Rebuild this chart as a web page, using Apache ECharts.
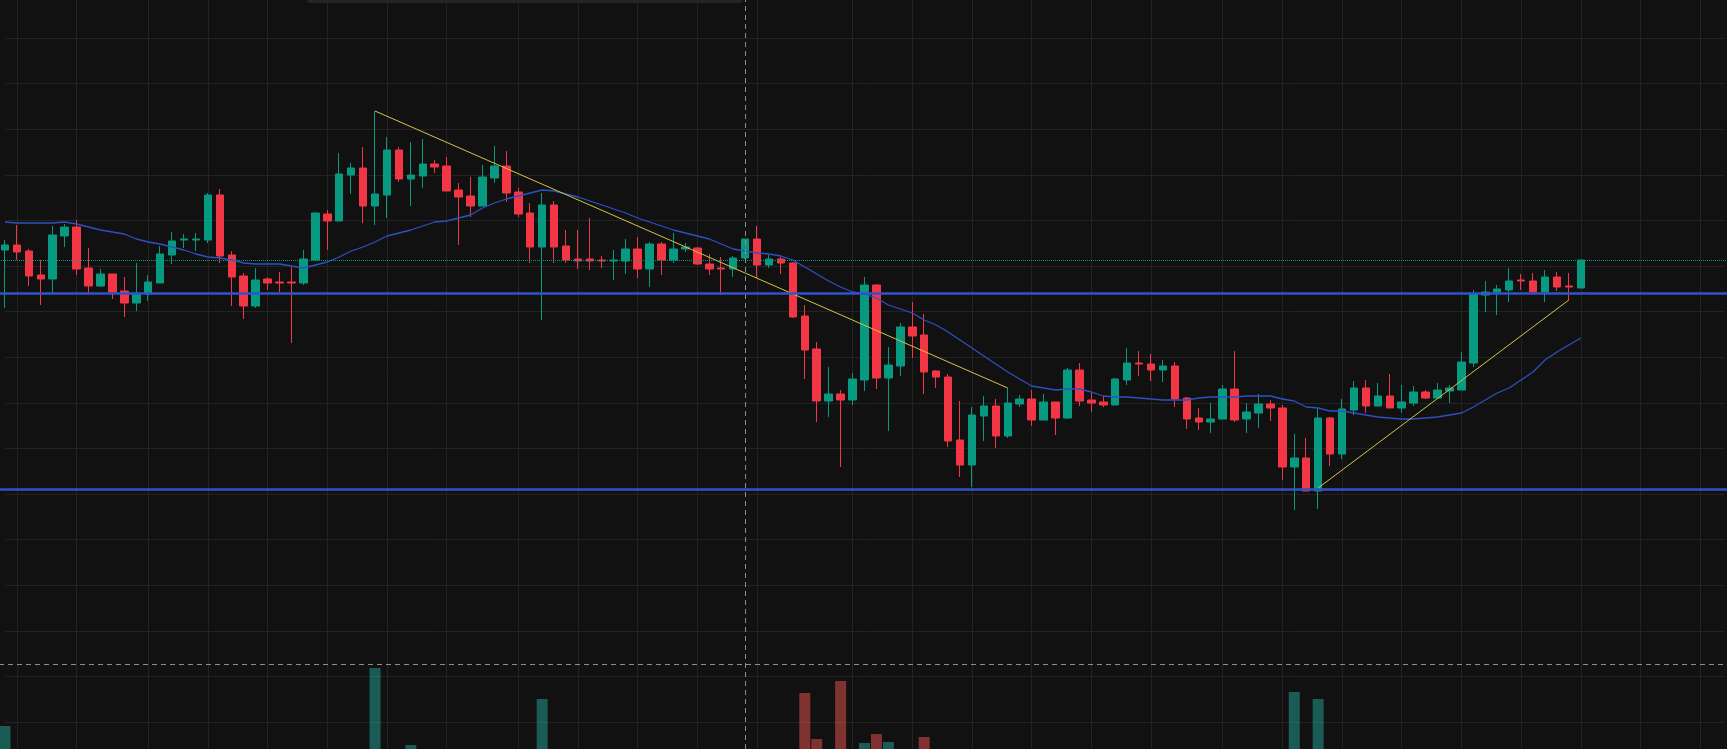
<!DOCTYPE html>
<html>
<head>
<meta charset="utf-8">
<title>candles</title>
<script src="https://cdn.jsdelivr.net/npm/echarts@6/dist/echarts.min.js"></script>
<style>
  html, body { margin: 0; padding: 0; background: #111111; overflow: hidden; }
  #chart { width: 1727px; height: 749px; }
</style>
</head>
<body>
<div id="chart"></div>
<script>
// [open, close, low, high]
var candles = [
  [75.0, 75.5, 69.2, 76.0], [75.5, 74.8, 74.0, 77.5], [74.9, 72.4, 71.4, 75.1], [72.5, 72.1, 69.5, 74.0],
  [72.1, 76.5, 70.7, 77.4], [76.4, 77.3, 75.3, 77.6], [77.3, 73.1, 72.5, 78.0], [73.2, 71.4, 70.7, 75.2],
  [71.4, 72.6, 71.3, 73.1], [72.6, 70.8, 70.1, 72.6], [70.9, 69.7, 68.3, 72.3], [69.7, 70.7, 68.9, 73.7],
  [70.6, 71.8, 69.9, 72.5], [71.7, 74.6, 71.7, 75.4], [74.5, 75.9, 73.6, 76.8], [76.0, 76.1, 75.2, 76.6],
  [76.0, 76.1, 74.9, 76.7], [76.0, 80.5, 75.7, 80.7], [80.5, 74.4, 73.7, 81.1], [74.5, 72.3, 69.4, 74.9],
  [72.4, 69.4, 68.1, 72.7], [69.4, 72.0, 69.2, 73.2], [72.1, 71.7, 71.0, 72.3], [71.8, 71.7, 70.8, 72.8],
  [71.8, 71.7, 65.7, 73.3], [71.7, 74.1, 71.5, 75.0], [74.0, 78.7, 74.0, 78.8], [78.6, 77.9, 75.0, 79.0],
  [77.9, 82.6, 77.9, 84.7], [82.5, 83.2, 80.6, 83.7], [83.2, 79.4, 77.7, 85.3], [79.4, 80.6, 77.5, 88.9],
  [80.5, 85.0, 78.2, 86.3], [85.0, 82.1, 81.8, 85.3], [82.1, 82.5, 79.4, 85.8], [82.4, 83.6, 81.2, 86.1],
  [83.6, 83.3, 82.7, 84.0], [83.4, 80.9, 80.9, 84.3], [81.0, 80.3, 75.5, 81.7], [80.4, 79.4, 78.3, 82.3],
  [79.4, 82.3, 79.4, 83.5], [82.2, 83.4, 81.7, 85.4], [83.4, 80.7, 79.8, 84.9], [80.8, 78.6, 78.3, 81.2],
  [78.7, 75.3, 73.7, 79.7], [75.3, 79.5, 68.0, 80.7], [79.5, 75.3, 73.7, 79.9], [75.4, 74.0, 73.7, 77.0],
  [74.1, 73.9, 73.1, 77.0], [74.1, 73.9, 73.0, 78.2], [74.0, 73.9, 73.2, 74.4], [73.9, 74.0, 72.0, 75.0],
  [73.9, 75.1, 72.6, 76.1], [75.1, 73.1, 72.2, 76.3], [73.1, 75.6, 71.3, 75.8], [75.6, 74.0, 72.5, 75.8],
  [74.0, 75.1, 73.7, 76.7], [75.1, 75.3, 74.8, 75.7], [75.2, 73.6, 73.5, 75.3], [73.6, 73.1, 72.5, 74.6],
  [73.2, 73.1, 70.5, 74.3], [73.1, 74.2, 72.3, 74.4], [74.2, 76.1, 74.1, 76.1], [76.1, 73.5, 72.2, 77.4],
  [73.5, 74.1, 73.2, 74.5], [74.1, 73.7, 72.6, 74.3], [73.7, 68.3, 68.2, 73.8], [68.4, 65.0, 62.1, 69.5],
  [65.1, 59.9, 57.8, 65.8], [59.9, 60.6, 58.3, 63.3], [60.6, 60.0, 53.3, 61.0], [60.0, 62.1, 59.5, 62.7],
  [62.0, 71.5, 60.9, 72.3], [71.5, 62.2, 61.1, 71.6], [62.2, 63.5, 56.9, 65.3], [63.4, 67.3, 62.4, 67.7],
  [67.3, 66.4, 64.2, 69.8], [66.5, 62.8, 60.6, 68.6], [62.9, 62.3, 61.2, 63.0], [62.3, 55.9, 55.3, 62.6],
  [56.0, 53.5, 52.3, 59.9], [53.5, 58.5, 51.3, 59.3], [58.4, 59.4, 55.9, 60.4], [59.4, 56.4, 55.2, 60.1],
  [56.4, 59.7, 56.2, 61.2], [59.6, 60.1, 59.3, 60.5], [60.1, 58.0, 57.4, 61.0], [58.0, 59.8, 58.0, 60.6],
  [59.8, 58.2, 56.5, 59.8], [58.2, 63.0, 58.1, 63.2], [63.0, 59.9, 59.4, 63.7], [60.0, 59.7, 58.8, 60.7],
  [59.8, 59.5, 59.3, 60.4], [59.5, 62.1, 59.5, 62.2], [62.0, 63.7, 61.5, 65.2], [63.7, 63.6, 62.4, 64.9],
  [63.6, 63.0, 61.9, 64.6], [63.0, 63.4, 61.8, 64.0], [63.4, 60.1, 59.3, 63.8], [60.2, 58.1, 57.1, 60.3],
  [58.2, 57.8, 57.0, 59.2], [57.8, 58.1, 56.7, 59.7], [58.1, 61.1, 58.1, 61.5], [61.1, 58.0, 57.8, 64.9],
  [58.1, 58.8, 56.7, 59.7], [58.7, 59.6, 57.2, 60.6], [59.6, 59.2, 57.9, 60.0], [59.2, 53.3, 52.0, 59.5],
  [53.3, 54.2, 49.0, 56.6], [54.2, 50.9, 50.9, 56.2], [50.9, 58.2, 49.1, 59.2], [58.2, 54.6, 53.4, 58.3],
  [54.6, 59.1, 54.1, 60.1], [59.0, 61.2, 58.5, 61.9], [61.2, 59.4, 58.7, 62.0], [59.4, 60.4, 59.4, 61.7],
  [60.4, 59.2, 59.2, 62.6], [59.2, 59.8, 58.7, 61.5], [59.7, 60.8, 59.4, 61.4], [60.8, 60.2, 60.1, 61.0],
  [60.2, 61.0, 60.2, 61.7], [60.9, 61.2, 59.7, 61.5], [61.0, 63.8, 61.0, 64.8], [63.7, 70.6, 63.3, 71.0],
  [70.5, 70.8, 68.8, 71.9], [70.8, 71.1, 68.5, 71.5], [71.0, 71.9, 69.8, 73.2], [72.0, 71.9, 71.0, 72.6],
  [71.9, 70.8, 70.7, 72.7], [70.8, 72.3, 69.8, 73.0], [72.3, 71.3, 70.9, 72.8], [71.4, 71.3, 70.0, 72.7],
  [71.2, 74.0, 71.2, 74.0]
];

var ma = [
  77.8, 77.7, 77.7, 77.7, 77.7, 77.8, 77.6, 77.3, 77.0, 76.8,
  76.6, 76.1, 75.8, 75.6, 75.3, 75.0, 74.6, 74.3, 74.2, 74.0,
  73.7, 73.6, 73.6, 73.6, 73.4, 73.2, 73.5, 73.8, 74.3, 74.9,
  75.3, 75.8, 76.4, 76.7, 77.0, 77.4, 77.8, 77.9, 78.2, 78.5,
  79.2, 79.7, 80.1, 80.4, 80.7, 81.0, 80.9, 80.6, 80.3, 79.9,
  79.5, 79.1, 78.7, 78.2, 77.8, 77.4, 77.0, 76.7, 76.4, 76.1,
  75.6, 75.1, 74.9, 74.7, 74.6, 74.4, 74.0, 73.3, 72.6, 71.9,
  71.3, 70.8, 70.6, 70.2, 69.5, 69.1, 68.7, 68.0, 67.5, 66.8,
  66.0, 65.2, 64.4, 63.6, 62.8, 62.1, 61.4, 61.2, 61.0, 61.1,
  61.1, 60.8, 60.4, 60.3, 60.3, 60.2, 60.1, 60.0, 60.0, 60.0,
  60.2, 60.3, 60.3, 60.3, 60.4, 60.4, 60.4, 60.1, 59.9, 59.3,
  59.2, 58.9, 58.9, 58.7, 58.5, 58.3, 58.2, 58.1, 58.1, 58.2,
  58.3, 58.5, 58.7, 59.3, 60.0, 60.7, 61.2, 62.0, 62.8, 64.0,
  64.8, 65.5, 66.2
];

var volumes = [
  83, 38, 42, 35, 48, 30, 45, 40, 28, 33,
  36, 41, 30, 44, 37, 22, 25, 52, 55, 43,
  47, 39, 24, 21, 35, 40, 50, 33, 54, 31,
  49, 141, 53, 42, 64, 38, 20, 36, 44, 34,
  41, 37, 45, 32, 51, 110, 48, 30, 26, 29,
  18, 27, 31, 34, 36, 29, 30, 19, 33, 24,
  31, 28, 39, 43, 22, 25, 56, 116, 70, 40,
  128, 45, 66, 75, 67, 52, 44, 72, 30, 55,
  50, 57, 36, 41, 46, 21, 34, 32, 35, 49,
  42, 23, 20, 38, 40, 22, 27, 24, 43, 37,
  26, 29, 39, 47, 31, 33, 25, 54, 117, 51,
  110, 48, 46, 36, 34, 28, 33, 27, 29, 18,
  24, 21, 44, 57, 35, 30, 38, 20, 28, 32,
  26, 23, 41
];

var levels = [70.65, 51.1];
var trendDown = [[31, 88.9], [84, 61.2]];
var trendUp = [[110, 51.2], [131, 70.0]];
var lastPrice = 74.0;
var crossIdx = 62;
var crossPrice = 33.55;
var gridIdx = [1, 6, 12, 17, 22, 27, 32, 37, 43, 48, 53, 58, 63, 71, 76, 81, 86, 91, 96, 102, 107, 112, 117, 122, 127, 132, 137, 142];
var emptySlots = 12;

var upColor = '#089981';
var downColor = '#f23645';

var dates = [];
var d = new Date(2023, 2, 1);
while (dates.length < candles.length + emptySlots) {
    if (d.getDay() !== 0 && d.getDay() !== 6) {
        dates.push(d.getFullYear() + '-' + (d.getMonth() + 1) + '-' + d.getDate());
    }
    d.setDate(d.getDate() + 1);
}

var volData = volumes.map(function (v, i) {
    var up = candles[i][1] >= candles[i][0];
    return { value: v, itemStyle: { color: up ? 'rgba(38,166,154,0.5)' : 'rgba(239,83,80,0.5)' } };
});

var myChart = echarts.init(document.getElementById('chart'));
myChart.setOption({
    backgroundColor: '#111111',
    animation: false,
    graphic: [{
        type: 'rect', z: 100,
        shape: { x: 307, y: -4, width: 436, height: 7, r: 3 },
        style: { fill: '#242424' }
    }],
    grid: [
        { left: -1, top: 0, width: 1731, height: 749, containLabel: false, outerBoundsMode: 'none' },
        { left: -1, top: 609, width: 1731, height: 200, containLabel: false, outerBoundsMode: 'none' },
        { left: 4.97, top: -7.6, width: 1719.07, height: 775.2, containLabel: false, outerBoundsMode: 'none' }
    ],
    xAxis: [
        { type: 'category', gridIndex: 0, data: dates, show: false },
        { type: 'category', gridIndex: 1, data: dates, show: false },
        {
            type: 'category', gridIndex: 2, data: dates, boundaryGap: false,
            axisLine: { show: false }, axisTick: { show: false }, axisLabel: { show: false },
            splitLine: {
                show: true,
                interval: function (index) { return gridIdx.indexOf(index) >= 0; },
                lineStyle: { color: '#232323', width: 1 }
            }
        }
    ],
    yAxis: [
        { type: 'value', gridIndex: 0, min: 25.1, max: 100, show: false },
        { type: 'value', gridIndex: 1, min: 0, max: 200, show: false },
        {
            type: 'value', gridIndex: 2, min: 0, max: 77.52, interval: 4.56,
            axisLine: { show: false }, axisTick: { show: false }, axisLabel: { show: false },
            splitLine: { show: true, lineStyle: { color: '#232323', width: 1 } }
        }
    ],
    series: [
        {
            name: 'volume', type: 'bar', xAxisIndex: 1, yAxisIndex: 1,
            data: volData, barWidth: 11, silent: true
        },
        {
            name: 'price', type: 'candlestick', xAxisIndex: 0, yAxisIndex: 0,
            data: candles, barWidth: 8,
            itemStyle: {
                color: upColor, color0: downColor,
                borderColor: upColor, borderColor0: downColor, borderWidth: 1
            },
            markLine: {
                silent: true, symbol: ['none', 'none'], label: { show: false },
                data: [
                    { yAxis: lastPrice, lineStyle: { color: upColor, type: 'dotted', width: 1 } },
                    { xAxis: dates[crossIdx], lineStyle: { color: '#8e8e8e', type: [5, 4], width: 1 } },
                    { yAxis: crossPrice, lineStyle: { color: '#8e8e8e', type: [5, 4], width: 1 } }
                ]
            }
        },
        {
            name: 'ma', type: 'line', xAxisIndex: 0, yAxisIndex: 0,
            data: ma, showSymbol: false, silent: true,
            lineStyle: { color: '#2d50c4', width: 1.3 }
        },
        {
            name: 'levels', type: 'line', xAxisIndex: 0, yAxisIndex: 0, data: [], silent: true,
            markLine: {
                silent: true, symbol: ['none', 'none'], label: { show: false },
                lineStyle: { color: '#3152cc', width: 2.5, type: 'solid' },
                data: levels.map(function (v) { return { yAxis: v }; })
            }
        },
        {
            name: 'trendDown', type: 'line', xAxisIndex: 0, yAxisIndex: 0,
            data: trendDown, showSymbol: false, silent: true,
            lineStyle: { color: '#d4c443', width: 1 }
        },
        {
            name: 'trendUp', type: 'line', xAxisIndex: 0, yAxisIndex: 0,
            data: trendUp, showSymbol: false, silent: true,
            lineStyle: { color: '#d4c443', width: 1 }
        }
    ]
});
</script>
</body>
</html>
